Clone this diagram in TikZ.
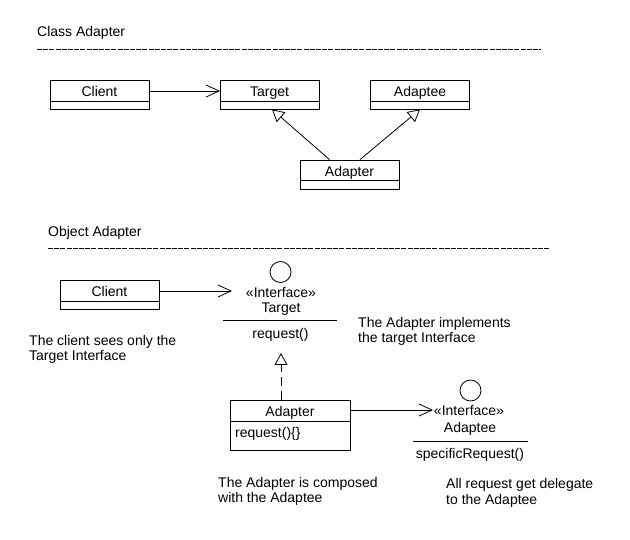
\documentclass[tikz,border=0pt]{standalone}
\usepackage{fontspec}
\setmainfont{Liberation Sans}
\usetikzlibrary{arrows.meta}
\begin{document}
\begin{tikzpicture}[x=1pt,y=-1pt,
  txt/.style={inner sep=0pt,anchor=base,font=\fontsize{14}{16}\selectfont},
  ltxt/.style={txt,anchor=base west},
  cls/.style={draw,line width=0.8pt,inner sep=0pt,minimum width=99pt,minimum height=29pt},
  sepline/.style={line width=0.8pt,dash pattern=on 5pt off 1.2pt},
  ln/.style={line width=0.8pt},
  assoc/.style={ln,-{Straight Barb[length=13pt,width=12pt,line width=0.8pt]}},
  inherit/.style={ln,-{Triangle[open,length=12pt,width=13pt,line width=0.8pt]}},
  real/.style={inherit,dash pattern=on 9pt off 5pt},
  iface/.style={draw,circle,line width=0.8pt,minimum size=21pt,inner sep=0pt}
]
\fill[white] (0,0) rectangle (630,540);
\useasboundingbox (0,0) rectangle (630,540);

% ---------- Class Adapter ----------
\node[ltxt] (title1) at (37,37) {Class Adapter};
\draw[sepline] (37,49) -- (541,49);

\node[cls] (cclient) at (99.5,94.5) {};
\node[txt] (cclientl) at (99.5,97) {Client};
\draw[ln] (50,101) -- (149,101);

\node[cls] (ctarget) at (269.5,94.5) {};
\node[txt] (ctargetl) at (269.5,97) {Target};
\draw[ln] (220,101) -- (319,101);

\node[cls] (cadaptee) at (420,94.5) {};
\node[txt] (cadapteel) at (420,97) {Adaptee};
\draw[ln] (370.5,101) -- (469.5,101);

\node[cls] (cadapter) at (349.5,174.5) {};
\node[txt] (cadapterl) at (349.5,176.5) {Adapter};
\draw[ln] (300,180) -- (399,180);

\coordinate (ctin) at (220,91);
\draw[assoc] (cclient.east |- ctin) -- (ctin);
\draw[inherit] ([xshift=-20pt]cadapter.north) -- ([xshift=2.5pt]ctarget.south);
\draw[inherit] ([xshift=10.5pt]cadapter.north) -- (cadaptee.south);

% ---------- Object Adapter ----------
\node[ltxt] (title2) at (48,237) {Object Adapter};
\draw[sepline] (48,248) -- (549,248);

\node[cls] (oclient) at (109.5,294.5) {};
\node[txt] (oclientl) at (109.5,297) {Client};
\draw[ln] (60,301) -- (159,301);

\node[iface] (tcirc) at (280.5,272) {};
\node[txt] (tstereo) at (281,298) {«Interface»};
\node[txt] (tname) at (281,313) {Target};
\draw[ln] (223,320.5) -- (337,320.5);
\node[txt] (treq) at (280.5,338.5) {request()};
\coordinate (tin) at (232,291);
\coordinate (tbot) at (281,353);

\node[ltxt] (note1a) at (29,346) {The client sees only the};
\node[ltxt] (note1b) at (29,361) {Target Interface};
\node[ltxt] (note2a) at (358,328) {The Adapter implements};
\node[ltxt] (note2b) at (358,343) {the target Interface};

\node[cls,minimum width=120pt,minimum height=50pt] (oadapter) at (290,425) {};
\node[txt] (oadapterl) at (290,417) {Adapter};
\draw[ln] (230,421) -- (350,421);
\node[ltxt] (oadapterm) at (235,437) {request()\{\}};

\node[iface] (acirc) at (470.5,390.5) {};
\node[txt] (astereo) at (469,415) {«Interface»};
\node[txt] (aname) at (470,432) {Adaptee};
\draw[ln] (413,441) -- (528,441);
\node[txt] (areq) at (470,458) {specificRequest()};
\coordinate (ain) at (433,410);

\draw[assoc] (oclient.east |- tin) -- (tin);
\draw[real] (oadapter.north -| tbot) -- (tbot);
\draw[assoc] (oadapter.east |- ain) -- (ain);

\node[ltxt] (note3a) at (218,487) {The Adapter is composed};
\node[ltxt] (note3b) at (218,502) {with the Adaptee};
\node[ltxt] (note4a) at (446,488) {All request get delegate};
\node[ltxt] (note4b) at (446,504) {to the Adaptee};
\end{tikzpicture}
\end{document}
